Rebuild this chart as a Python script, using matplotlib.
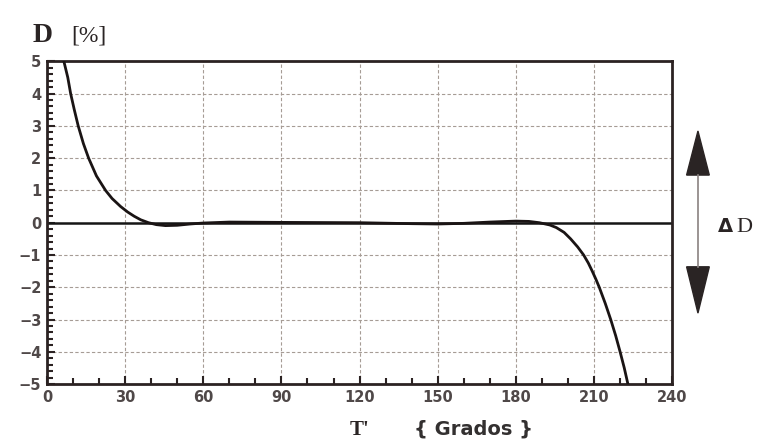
import matplotlib
matplotlib.use("Agg")
import matplotlib.pyplot as plt
from matplotlib.ticker import MultipleLocator

# Deviation D [%] against angle T' (degrees)
angle_deg = [6.5, 8, 9.1, 10.5, 12, 14, 16, 19, 22.5, 25, 28.3, 31, 33.5, 36,
             39, 42, 45.5, 50, 55, 60, 70, 90, 120, 140, 150, 160, 170, 180,
             185, 189, 193, 195.5, 198.5, 201, 203.7, 206, 207.8, 209.3, 210.7,
             212, 214.3, 216.4, 218.3, 220, 221.6, 223]
deviation_pct = [5, 4.5, 4, 3.5, 3, 2.45, 2, 1.45, 1, 0.75, 0.5, 0.33, 0.2, 0.09,
                 0, -0.06, -0.09, -0.08, -0.04, -0.01, 0.02, 0.01, 0, -0.03,
                 -0.04, -0.02, 0.02, 0.05, 0.04, 0, -0.07, -0.15, -0.3, -0.5,
                 -0.75, -1.0, -1.25, -1.5, -1.75, -2.0, -2.5, -3.0, -3.5, -4.0,
                 -4.5, -5.0]

x_ticks = [0, 30, 60, 90, 120, 150, 180, 210, 240]
y_ticks = [-5, -4, -3, -2, -1, 0, 1, 2, 3, 4, 5]

frame_color = "#2b2222"
grid_color = "#a69c95"
label_color = "#4f4848"

fig = plt.figure(figsize=(7.57, 4.41), dpi=100)
ax = fig.add_axes([0.062, 0.129, 0.826, 0.732])

ax.set_xlim(0, 240)
ax.set_ylim(-5, 5)

for x in x_ticks[1:-1]:
    ax.axvline(x, color=grid_color, linestyle=(0, (3, 2)), linewidth=0.8, zorder=1)
for y in y_ticks[1:-1]:
    if y != 0:
        ax.axhline(y, color=grid_color, linestyle=(0, (3, 2)), linewidth=0.8, zorder=1)
ax.axhline(0, color="#151515", linewidth=1.8, zorder=2)

ax.plot(angle_deg, deviation_pct, color="#1a1414", linewidth=2.0, zorder=3,
        solid_joinstyle="round", clip_on=True)

ax.set_xticks(x_ticks)
ax.set_yticks(y_ticks)
ax.xaxis.set_minor_locator(MultipleLocator(10))
ax.yaxis.set_minor_locator(MultipleLocator(0.2))
ax.set_xticklabels([str(v) for v in x_ticks])
ax.set_yticklabels([str(v).replace("-", "\u2212") for v in y_ticks])
ax.tick_params(which="both", direction="in", color=frame_color, width=1.5,
               top=False, right=False)
ax.tick_params(which="major", length=6, labelsize=10.5, labelcolor=label_color,
               pad=4)
ax.tick_params(which="minor", length=4)
for lbl in ax.get_xticklabels() + ax.get_yticklabels():
    lbl.set_fontweight("bold")
    lbl.set_family("DejaVu Sans")

for spine in ax.spines.values():
    spine.set_color(frame_color)
    spine.set_linewidth(2.0)

# Axis titles
fig.text(0.043, 0.905, "D", fontsize=20, family="Liberation Serif",
         fontweight="bold", color="#2a2424", ha="left", va="baseline")
fig.text(0.094, 0.905, "[%]", fontsize=17, family="Liberation Serif",
         color="#2a2424", ha="left", va="baseline")
fig.text(0.462, 0.014, "T'", fontsize=15, family="Liberation Serif",
         fontweight="bold", color="#2a2424", ha="left", va="baseline")
fig.text(0.547, 0.014, "{ Grados }", fontsize=14, family="DejaVu Sans",
         fontweight="bold", color="#333030", ha="left", va="baseline")

# Range marker on the right
fig.patches.append(plt.Polygon([[0.922, 0.703], [0.907, 0.603], [0.937, 0.603]],
                               closed=True, transform=fig.transFigure,
                               color="#2a2424"))
fig.patches.append(plt.Polygon([[0.922, 0.290], [0.907, 0.395], [0.937, 0.395]],
                               closed=True, transform=fig.transFigure,
                               color="#2a2424"))
fig.lines.append(plt.Line2D([0.922, 0.922], [0.603, 0.395],
                            transform=fig.transFigure, color="#8a8280",
                            linewidth=1.2))
fig.text(0.948, 0.487, "\u0394", fontsize=14, family="DejaVu Sans",
         fontweight="bold", color="#2a2424", ha="left", va="center")
fig.text(0.973, 0.484, "D", fontsize=16, family="Liberation Serif",
         color="#2a2424", ha="left", va="center")

fig.savefig("out.png", dpi=100)
